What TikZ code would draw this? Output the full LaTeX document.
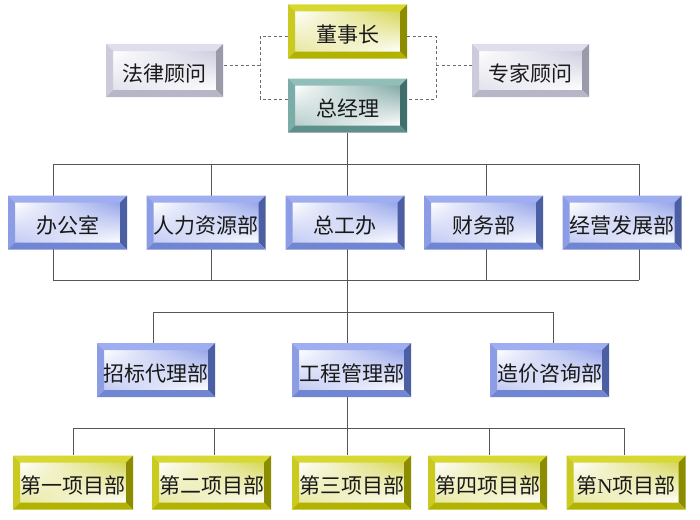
\documentclass[tikz,border=0pt]{standalone}
\usepackage{fontspec}
\newfontfamily\cjk{Noto Sans CJK SC}
\newfontfamily\latin{Liberation Serif}
\usepackage{tikz}
\usetikzlibrary{calc, backgrounds, shadings}
%% bevel colours: top / left / right / bottom / face corners
\definecolor{OCbtop}{HTML}{9EAEF0}
\definecolor{OCbleft}{HTML}{8C9DE6}
\definecolor{OCbright}{HTML}{4B5FA2}
\definecolor{OCbbot}{HTML}{7086D2}
\definecolor{OCbface}{HTML}{8294E6}
\definecolor{OCytop}{HTML}{D8D832}
\definecolor{OCyleft}{HTML}{CACA20}
\definecolor{OCyright}{HTML}{8C8C00}
\definecolor{OCybot}{HTML}{B2B200}
\definecolor{OCyface}{HTML}{CFCF3A}
\definecolor{OCttop}{HTML}{92BEBA}
\definecolor{OCtleft}{HTML}{7CACA8}
\definecolor{OCtright}{HTML}{3F6F6B}
\definecolor{OCtbot}{HTML}{5F8F8B}
\definecolor{OCtface}{HTML}{6A9A96}
\definecolor{OCgtop}{HTML}{DEDEEC}
\definecolor{OCgleft}{HTML}{CBCBDB}
\definecolor{OCgright}{HTML}{9A9AAA}
\definecolor{OCgbot}{HTML}{B6B6C6}
\definecolor{OCgface}{HTML}{C4C4DA}
\definecolor{OCline}{HTML}{555555}
\definecolor{OCdash}{HTML}{6A6A6A}
\newcommand\bevelfill[1]{%
  \coordinate (bnw) at (path picture bounding box.north west);
  \coordinate (bne) at (path picture bounding box.north east);
  \coordinate (bsw) at (path picture bounding box.south west);
  \coordinate (bse) at (path picture bounding box.south east);
  \shade[upper left=white, upper right=#1face!85, lower left=#1face!50, lower right=white]
    ([shift={(7pt,-7pt)}]bnw) rectangle ([shift={(-7pt,7pt)}]bse);
  \fill[#1top] (bnw) -- (bne) -- ([shift={(-7pt,-7pt)}]bne) -- ([shift={(7pt,-7pt)}]bnw) -- cycle;
  \fill[#1left] (bnw) -- (bsw) -- ([shift={(7pt,7pt)}]bsw) -- ([shift={(7pt,-7pt)}]bnw) -- cycle;
  \fill[#1right] (bne) -- (bse) -- ([shift={(-7pt,7pt)}]bse) -- ([shift={(-7pt,-7pt)}]bne) -- cycle;
  \fill[#1bot] (bsw) -- (bse) -- ([shift={(-7pt,7pt)}]bse) -- ([shift={(7pt,7pt)}]bsw) -- cycle;
}
\tikzset{
  ocbox/.style={rectangle, minimum width=119pt, minimum height=54pt, inner sep=0pt,
    text height=22pt, text depth=0pt,
    font=\cjk\fontsize{21}{24}\selectfont, text=black!90, path picture={\bevelfill{#1}}},
  ocblue/.style={ocbox=OCb},
  ocyellow/.style={ocbox=OCy},
  octeal/.style={ocbox=OCt},
  ocgray/.style={ocbox=OCg, minimum width=117pt, minimum height=53pt},
  bus/.style={draw=OCline, line width=0.8pt},
  dashline/.style={draw=OCdash, line width=0.8pt, dash pattern=on 3pt off 2.5pt},
}
\begin{document}
\begin{tikzpicture}[x=1pt, y=-1pt]
  \useasboundingbox (0,0) rectangle (700,519);
  %% Top
  \node[ocyellow] (dsz) at (347.5,31.5) {董事长};
  \node[octeal] (zjl) at (347.5,105.5) {总经理};
  \node[ocgray] (flgw) at (164.5,70.5) {法律顾问};
  \node[ocgray] (zjgw) at (530.5,70.5) {专家顾问};
  %% Departments
  \node[ocblue] (bgs)  at (67.5,222.5)  {办公室};
  \node[ocblue] (rlzy) at (206,222.5)   {人力资源部};
  \node[ocblue] (zgb)  at (345,222.5)   {总工办};
  \node[ocblue] (cwb)  at (483.5,222.5) {财务部};
  \node[ocblue] (jyfz) at (622,222.5)   {经营发展部};
  %% Business units
  \node[ocblue, minimum width=118pt] (zbdl) at (156,370)   {招标代理部};
  \node[ocblue] (gcgl) at (351.5,370) {工程管理部};
  \node[ocblue] (zjzx) at (549.5,370) {造价咨询部};
  %% Projects
  \node[ocyellow, minimum width=120pt] (xm1) at (73,482.5)    {第一项目部};
  \node[ocyellow] (xm2) at (211.5,482.5) {第二项目部};
  \node[ocyellow] (xm3) at (351.5,482.5) {第三项目部};
  \node[ocyellow] (xm4) at (487.5,482.5) {第四项目部};
  \node[ocyellow] (xmn) at (626,482.5)   {第{\latin N}项目部};
  %% Connectors
  \begin{scope}[on background layer]
    \coordinate (dl) at (260,65);
    \coordinate (dr) at (436,65);
    \draw[dashline] ([yshift=-4.5pt]dsz.west) -| (dl) |- ([yshift=6.5pt]zjl.west);
    \draw[dashline] ([yshift=-4.5pt]dsz.east) -| (dr) |- ([yshift=6.5pt]zjl.east);
    \draw[dashline] (dl) -- (dl -| flgw.east);
    \draw[dashline] (dr) -- (dr -| zjgw.west);
    \draw[bus] (zjl.south) -- (zjl.south |- xm3.north);
    \foreach \x/\n in {53/1, 211/2, 347/3, 486/4, 639/5} {
      \coordinate (ua\n) at (\x,164);
      \coordinate (la\n) at (\x,280);
      \draw[bus] (ua\n) -- (la\n);
    }
    \draw[bus] (ua1) -- (ua5);
    \draw[bus] (la1) -- (la5);
    \coordinate (ub1) at (153,312);
    \coordinate (ub3) at (553,312);
    \draw[bus] (ub1 |- zbdl.north) -- (ub1) -- (ub3) -- (ub3 |- zjzx.north);
    \foreach \x/\n in {73/1, 214/2, 489/4, 624/5} {
      \coordinate (uc\n) at (\x,428);
      \draw[bus] (uc\n) -- (uc\n |- xm1.north);
    }
    \draw[bus] (uc1) -- (uc5);
  \end{scope}
\end{tikzpicture}
\end{document}
